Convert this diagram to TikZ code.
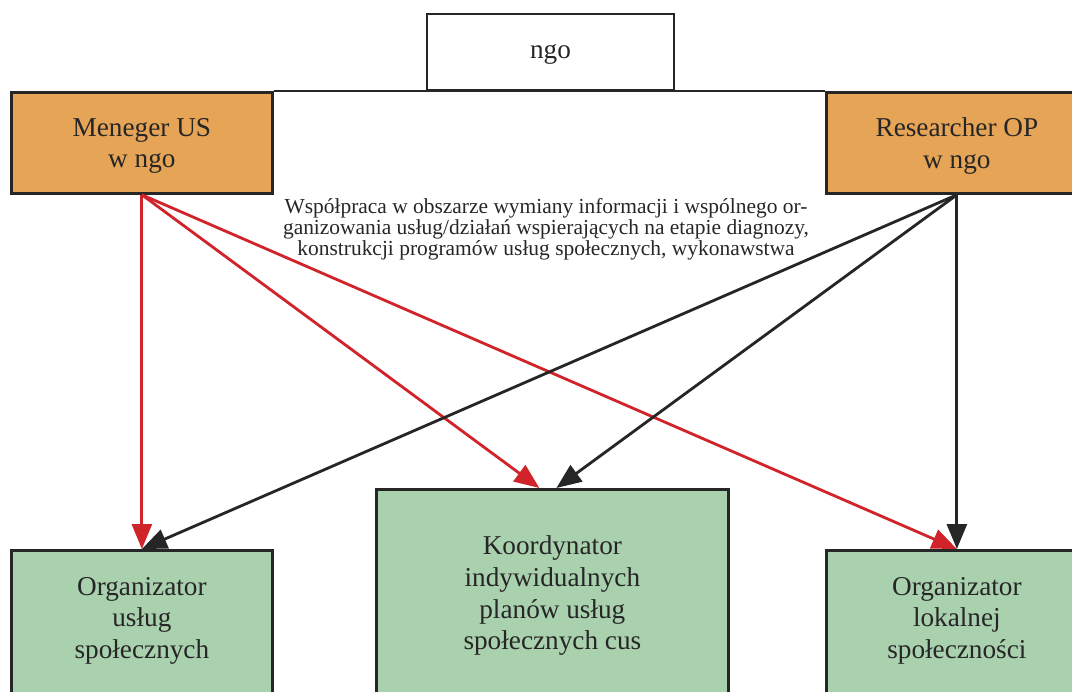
\documentclass[tikz,border=0pt]{standalone}
\usepackage{fontspec}
\setmainfont{Liberation Serif}
\usetikzlibrary{positioning}
\usetikzlibrary{arrows.meta}
\usetikzlibrary{calc}
\definecolor{boxorange}{HTML}{E5A456}
\definecolor{boxgreen}{HTML}{A9D1AE}
\definecolor{arrred}{HTML}{D0242A}
\definecolor{linegray}{HTML}{262626}

\begin{document}
\begin{tikzpicture}[
  x=0.02cm, y=-0.02cm,
  font=\fontsize{15.5}{18}\selectfont,
  box/.style={draw=linegray, line width=1.6pt, align=center, inner sep=4pt, text=linegray, text depth=0pt},
  role/.style={box, fill=boxorange, minimum width=5.22cm, minimum height=2.02cm},
  task/.style={box, fill=boxgreen, minimum width=5.22cm, minimum height=3.1cm, text depth=0.4cm},
  redarrow/.style={-{Triangle[length=0.5cm, width=0.4cm]}, line width=1.6pt, draw=arrred},
  blkarrow/.style={-{Triangle[length=0.5cm, width=0.4cm]}, line width=1.6pt, draw=linegray}
]

% --- Canvas ------------------------------------------------------------------
\clip (0,0) rectangle (1072,691);

% --- Top: ngo and the two roles ----------------------------------------------
\node[box, minimum width=4.94cm, minimum height=1.52cm] (ngo) at (550.5,52) {ngo};

\node[role, anchor=north west] (menUS) at (10,91) {Meneger US\\w ngo};
\node[role, anchor=north west] (resOP) at (825,91) {Researcher OP\\w ngo};

\draw[linegray, line width=1.6pt] (menUS.north east) -- (resOP.north west);

% --- Bottom: the three tasks -------------------------------------------------
\node[task, anchor=north west] (orgUS) at (10,549) {Organizator\\usług\\społecznych};
\node[task, anchor=north west, minimum width=7.04cm, minimum height=4.14cm, text depth=0pt] (koord) at (375,488)
{Koordynator\\indywidualnych\\planów usług\\społecznych cus};
\node[task, anchor=north west] (orgLS) at (825,549) {Organizator\\lokalnej\\społeczności};

% --- Cooperation note --------------------------------------------------------
\node[align=center, text=linegray, font=\fontsize{12.2}{11.9}\selectfont] (coop) at (546,229)
{Współpraca w obszarze wymiany informacji i wspólnego or-\\
ganizowania usług/działań wspierających na etapie diagnozy,\\
konstrukcji programów usług społecznych, wykonawstwa};

% --- Arrows from Meneger US (red) --------------------------------------------
\draw[redarrow] (menUS.south) -- (orgUS.north);
\draw[redarrow] (menUS.south) -- ($(koord.north)+(-13,0)$);
\draw[redarrow] (menUS.south) -- (orgLS.north);

% --- Arrows from Researcher OP (black) ---------------------------------------
\draw[blkarrow] (resOP.south) -- (orgUS.north);
\draw[blkarrow] (resOP.south) -- ($(koord.north)+(4,0)$);
\draw[blkarrow] (resOP.south) -- (orgLS.north);

\end{tikzpicture}
\end{document}
